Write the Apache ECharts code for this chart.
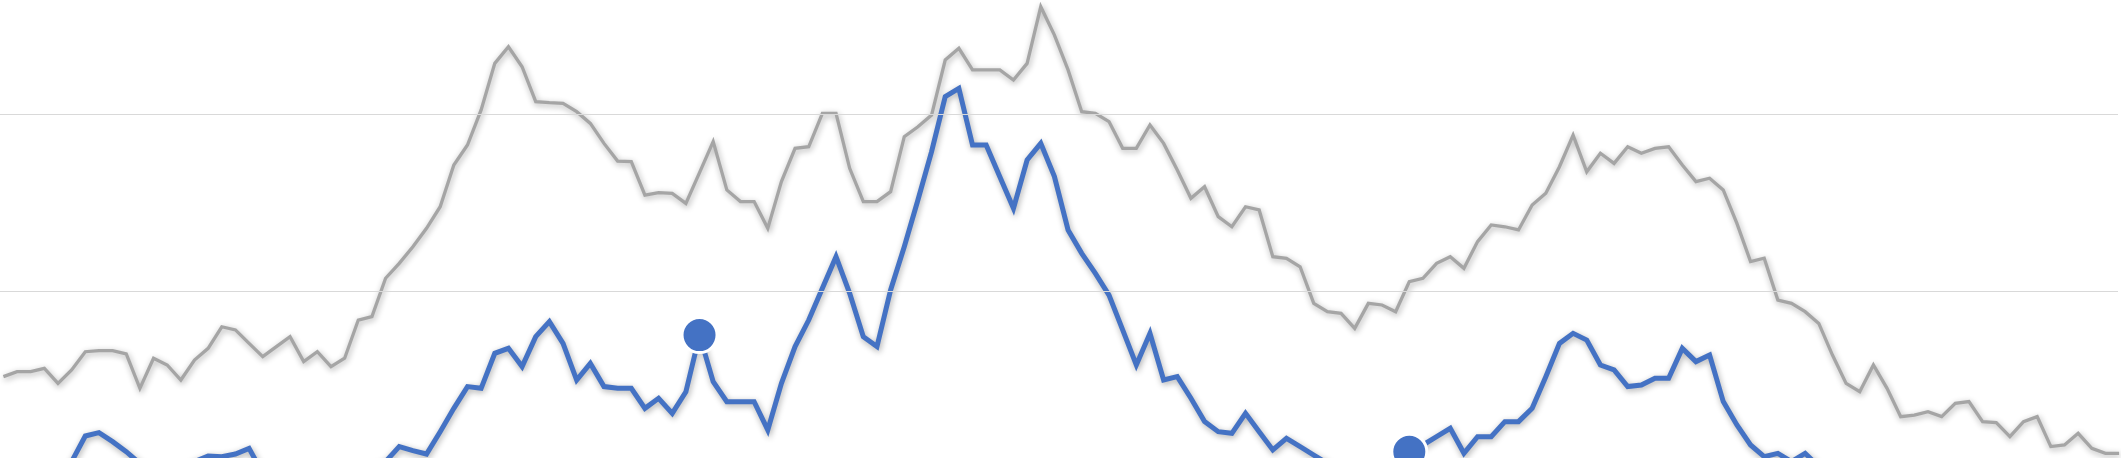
<!DOCTYPE html>
<html>
<head>
<meta charset="utf-8">
<script src="https://cdn.jsdelivr.net/npm/echarts@6/dist/echarts.min.js"></script>
<style>
  html, body { margin: 0; padding: 0; background: #fff; }
  #chart { width: 2124px; height: 458px; }
</style>
</head>
<body>
<div id="chart"></div>
<script>
// gray series (one value per period)
const grayLine = [
  5.16, 5.44, 5.44, 5.63, 4.78, 5.54, 6.57, 6.63, 6.63, 6.44,
  4.50, 6.20, 5.82, 4.97, 6.10, 6.76, 7.98, 7.80, 7.04, 6.29,
  6.86, 7.42, 6.01, 6.57, 5.73, 6.20, 8.36, 8.55, 10.72, 11.56,
  12.50, 13.54, 14.76, 17.12, 18.25, 20.23, 22.86, 23.80, 22.67, 20.70,
  20.64, 20.60, 20.13, 19.47, 18.34, 17.34, 17.31, 15.42, 15.56, 15.52,
  14.95, 16.69, 18.44, 15.71, 15.05, 15.05, 13.54, 16.18, 18.06, 18.15,
  20.04, 20.04, 16.93, 15.05, 15.05, 15.61, 18.72, 19.28, 19.94, 23.05,
  23.71, 22.49, 22.49, 22.49, 21.92, 22.86, 26.06, 24.46, 22.49, 20.13,
  20.04, 19.57, 18.06, 18.06, 19.38, 18.34, 16.84, 15.24, 15.89, 14.20,
  13.63, 14.76, 14.58, 11.94, 11.85, 11.37, 9.30, 8.83, 8.74, 7.89,
  9.30, 9.21, 8.83, 10.53, 10.72, 11.56, 11.94, 11.28, 12.79, 13.73,
  13.63, 13.45, 14.86, 15.52, 17.02, 18.81, 16.74, 17.78, 17.21, 18.15,
  17.78, 18.06, 18.15, 17.12, 16.18, 16.37, 15.71, 13.82, 11.66, 11.85,
  9.49, 9.30, 8.83, 8.17, 6.38, 4.78, 4.31, 5.82, 4.50, 2.90,
  2.99, 3.18, 2.90, 3.65, 3.75, 2.62, 2.56, 1.77, 2.62, 2.90,
  1.21, 1.30, 1.96, 1.11, 0.83, 0.83
];

// blue series
const blueLine = [
  -1.05, -1.43, -1.24, -0.87, -0.49, 0.36, 1.81, 2.00, 1.49, 0.92,
  0.26, -0.30, -0.49, -0.11, 0.36, 0.68, 0.64, 0.79, 1.11, -0.30,
  -0.68, -0.87, -0.68, -1.05, -0.87, -0.49, -0.30, 0.08, 0.36, 1.21,
  0.98, 0.79, 2.05, 3.37, 4.60, 4.50, 6.48, 6.76, 5.73, 7.42,
  8.27, 7.04, 4.97, 5.91, 4.60, 4.50, 4.50, 3.37, 3.94, 3.09,
  4.31, 7.51, 4.88, 3.75, 3.75, 3.75, 2.15, 4.78, 6.86, 8.36,
  10.15, 11.94, 9.87, 7.42, 6.86, 10.06, 12.50, 15.14, 17.87, 20.98,
  21.45, 18.25, 18.25, 16.46, 14.67, 17.40, 18.34, 16.46, 13.45, 12.13,
  11.00, 9.77, 7.80, 5.82, 7.61, 4.97, 5.16, 3.94, 2.62, 2.05,
  1.96, 3.09, 2.05, 1.02, 1.68, 1.21, 0.73, 0.26, -0.30, -0.58,
  -0.49, -0.21, 0.36, 0.92, 1.30, 1.77, 2.24, 0.83, 1.77, 1.77,
  2.62, 2.62, 3.37, 5.16, 7.04, 7.61, 7.23, 5.82, 5.54, 4.60,
  4.69, 5.07, 5.07, 6.76, 6.01, 6.38, 3.75, 2.43, 1.30, 0.64,
  0.83, 0.36, 0.83, 0.08, -0.49, -0.87, -1.10, -0.90, -1.30, -1.50,
  -1.70, -1.50, -1.70, -1.90, -1.80, -2.00, -1.90, -2.10, -1.90, -2.10,
  -2.30, -2.20, -2.10, -2.30, -2.40, -2.40
];

// periods of the blue series that carry a big dot
const markedPeriods = [51, 103];

// horizontal gridlines (value levels)
const gridLevels = [10, 20];

// visible window of the value axis (the picture is a crop of a taller chart)
const yRange = { min: 0.565, max: 26.441 };

const chart = echarts.init(document.getElementById('chart'), null, { renderer: 'canvas' });

const lineShadow = {
  shadowColor: 'rgba(0, 0, 0, 0.33)',
  shadowBlur: 6,
  shadowOffsetX: 1,
  shadowOffsetY: 2
};

chart.setOption({
  animation: false,
  backgroundColor: '#ffffff',
  grid: { left: 0, right: 6, top: 0, bottom: 0 },
  xAxis: {
    type: 'value',
    min: -0.249,
    max: 154.92,
    show: false
  },
  yAxis: {
    type: 'value',
    min: yRange.min,
    max: yRange.max,
    axisLine: { show: false },
    axisTick: { show: false },
    axisLabel: { show: false },
    splitLine: { show: false }
  },
  series: [
    {
      name: 'gridlines',
      type: 'line',
      data: [],
      z: 1,
      silent: true,
      markLine: {
        silent: true,
        symbol: 'none',
        label: { show: false },
        lineStyle: { color: '#d9d9d9', width: 1.2, type: 'solid' },
        data: gridLevels.map(v => ({ yAxis: v }))
      }
    },
    {
      name: 'gray',
      type: 'line',
      data: grayLine.map((v, i) => [i, v]),
      symbol: 'none',
      z: 2,
      lineStyle: Object.assign({ color: '#a5a5a5', width: 3.3, join: 'miter' }, lineShadow)
    },
    {
      name: 'blue',
      type: 'line',
      data: blueLine.map((v, i) => [i, v]),
      symbol: 'none',
      z: 3,
      lineStyle: Object.assign({ color: '#4472c4', width: 5, join: 'miter' }, lineShadow)
    },
    {
      name: 'marks',
      type: 'scatter',
      data: markedPeriods.map(i => [i, blueLine[i]]),
      symbol: 'circle',
      symbolSize: 35,
      z: 4,
      itemStyle: { color: '#4472c4', borderColor: '#ffffff', borderWidth: 3, opacity: 1 }
    }
  ]
});
</script>
</body>
</html>
